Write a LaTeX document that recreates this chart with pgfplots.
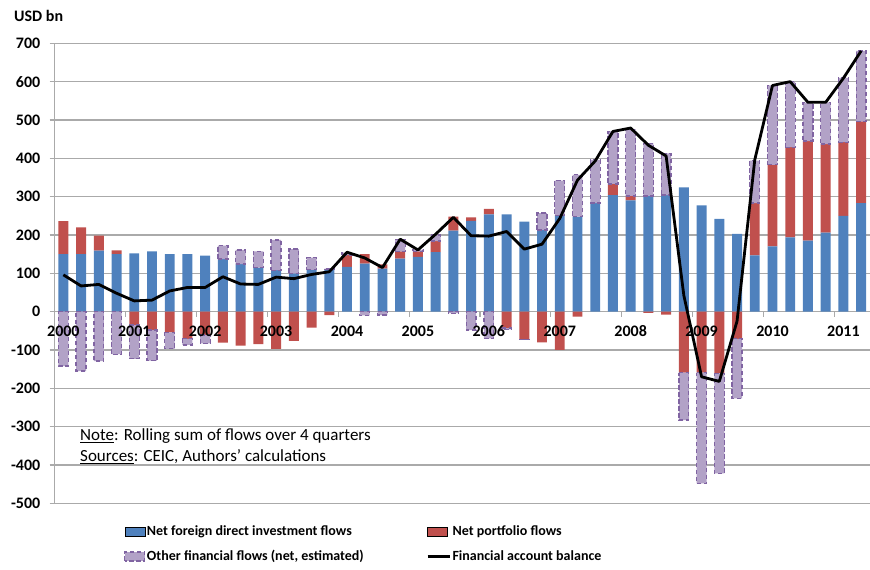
\documentclass[border=0pt]{standalone}
\usepackage{fontspec}
\setmainfont{Carlito}
\usepackage{pgfplots}
\pgfplotsset{compat=1.18}
\usepackage{pgfplotstable}

\definecolor{fdi}{RGB}{79,129,189}
\definecolor{port}{RGB}{192,80,77}
\definecolor{oth}{RGB}{178,162,199}
\definecolor{othline}{RGB}{128,100,162}
\definecolor{gridc}{RGB}{170,170,170}

% rolling 4-quarter sums, USD bn; x = quarter index, 2000Q1 = 0
% pp / pn: positive / negative portfolio flows
\pgfplotstableread{
x fdi pp pn bal
0 150 86 0 96
1 150 70 0 67
2 159 39 0 71
3 150 10 0 48
4 152 0 -35 28
5 157 0 -48 30
6 150 0 -54 54
7 150 0 -71 63
8 146 0 -61 63
9 137 0 -81 91
10 124 0 -89 72
11 115 0 -85 71
12 108 0 -97 90
13 100 0 -76 86
14 109 0 -42 97
15 110 0 -9 104
16 117 31 0 155
17 125 25 0 140
18 112 11 0 115
19 138 19 0 189
20 143 14 0 161
21 155 29 0 202
22 211 37 0 246
23 237 9 0 198
24 254 14 0 197
25 254 0 -43 209
26 235 0 -72 163
27 213 0 -80 176
28 250 0 -100 243
29 248 0 -13 343
30 283 0 0 393
31 304 29 0 470
32 290 12 0 479
33 302 0 -3 434
34 304 0 -8 406
35 324 0 -159 42
36 277 0 -159 -170
37 242 0 -161 -182
38 203 0 -71 -25
39 147 136 0 396
40 170 213 0 590
41 194 235 0 600
42 185 260 0 546
43 206 231 0 546
44 250 192 0 609
45 283 213 0 680
}\flows

% other financial flows: segment starts at "base" (end of the other bars) and has length "oth"
\pgfplotstableread{
x base oth
0 0 -142
1 0 -155
2 0 -129
3 0 -111
4 -35 -88
5 -48 -80
6 -54 -43
7 -71 -16
8 -61 -22
9 137 35
10 124 37
11 115 42
12 108 79
13 100 63
14 109 32
15 110 2
16 148 6
17 0 -10
18 0 -9
19 157 32
20 157 4
21 184 16
22 0 -4
23 0 -48
24 0 -70
25 -43 -3
26 -72 -1
27 213 44
28 250 92
29 248 109
30 283 113
31 333 137
32 302 174
33 302 137
34 304 109
35 -159 -124
36 -159 -289
37 -161 -261
38 -71 -155
39 283 111
40 383 207
41 429 171
42 445 100
43 437 109
44 442 168
45 496 184
}\other

\pgfplotsset{
  base/.style={scale only axis,width=815.5pt,height=460pt,
    at={(54.5pt,66.7pt)},anchor=south west,
    xmin=-0.5,xmax=45.5,ymin=-500,ymax=700,
    hide obscured x ticks=false,hide obscured y ticks=false},
  barleg/.style={legend image code/.code={\draw[##1] (0pt,-4.5pt) rectangle (20pt,4.5pt);}},
  lineleg/.style={legend image code/.code={\draw[##1] (0pt,0pt) -- (22pt,0pt);}},
  othstyle/.style={fill=oth,draw=othline,line width=1.3pt,dash pattern=on 4.5pt off 2.5pt},
}
\newcommand\tickfont{\bfseries\fontsize{16}{19}\selectfont}

\begin{document}
\begin{tikzpicture}
\path[use as bounding box] (0,0) rectangle (870pt,570pt);

% grid, axes, positive FDI and portfolio bars, legend
\begin{axis}[base,ybar stacked,bar width=0.56,
  axis y line*=left,axis x line*=middle,
  axis line style={draw=gridc,line width=1.1pt},
  ymajorgrids,grid style={draw=gridc,line width=1.1pt},
  ytick={-500,-400,...,700},
  xtick={-0.5,3.5,...,43.5},xticklabels={},
  tick align=outside,major tick length=5pt,
  tick style={draw=gridc,line width=1.1pt},
  yticklabel style={font=\tickfont,inner sep=0pt,xshift=-9pt},
  /pgf/number format/assume math mode=true,
  legend columns=2,legend cell align=left,
  legend style={at={(axis description cs:0.0852,-0.046)},anchor=north west,
    draw=none,fill=none,inner sep=0pt,row sep=10pt,
    font=\bfseries\fontsize{14}{16}\selectfont,
    nodes={inner sep=1.5pt},
    /tikz/every even column/.append style={column sep=61pt}}]
\addplot[fill=fdi,draw=none,barleg] table[x=x,y=fdi]{\flows};
\addplot[fill=port,draw=none,barleg] table[x=x,y=pp]{\flows};
\addlegendimage{othstyle,barleg}
\addlegendimage{black,line width=2.8pt,lineleg}
\legend{Net foreign direct investment flows,Net portfolio flows,
  Other financial flows (net{,} estimated),Financial account balance}
\end{axis}

% negative portfolio bars
\begin{axis}[base,hide axis,ybar stacked,bar width=0.56]
\addplot[fill=port,draw=none] table[x=x,y=pn]{\flows};
\end{axis}

% other financial flows on top of the stacks
\begin{axis}[base,hide axis,ybar stacked,bar width=0.56]
\addplot[draw=none,fill=none] table[x=x,y=base]{\other};
\addplot[othstyle] table[x=x,y=oth]{\other};
\end{axis}

% year labels and financial account balance
\begin{axis}[base,hide y axis,axis x line*=middle,x axis line style={draw=none},
  xtick={0,4,...,44},
  xticklabels={2000,2001,2002,2003,2004,2005,2006,2007,2008,2009,2010,2011},
  xtick style={draw=none},
  xticklabel style={font=\tickfont,inner sep=0pt,anchor=north,yshift=-14pt}]
\addplot[black,line width=2.8pt,line join=round,mark=none] table[x=x,y=bal]{\flows};
\end{axis}

\node[anchor=west,inner sep=0pt,font=\fontsize{17}{20}\selectfont] at (80pt,134pt)
  {\underline{Note}: Rolling sum of flows over 4 quarters};
\node[anchor=west,inner sep=0pt,font=\fontsize{17}{20}\selectfont] at (80pt,113pt)
  {\underline{Sources}: CEIC, Authors' calculations};
\node[anchor=west,inner sep=0pt,font=\bfseries\fontsize{16}{19}\selectfont] at (14pt,554.5pt)
  {USD bn};
\end{tikzpicture}
\end{document}
